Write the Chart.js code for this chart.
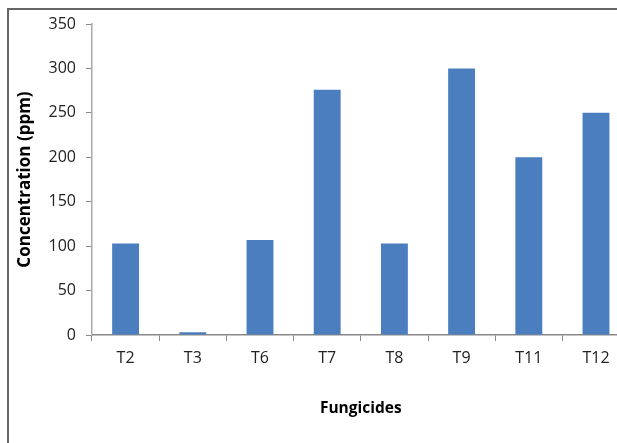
<!DOCTYPE html>
<html>
<head>
<meta charset="utf-8">
<script src="https://cdn.jsdelivr.net/npm/chart.js@4"></script>
<style>
html,body{margin:0;padding:0;background:#fff;overflow:hidden;}
#page{position:relative;width:617px;height:443px;overflow:hidden;background:#fff;}
#frame{position:absolute;left:7px;top:8px;width:620px;height:440px;border-left:2px solid #666;border-top:2px solid #666;}
#wrap{position:absolute;left:0;top:0;width:640px;height:443px;}
</style>
</head>
<body>
<div id="page">
<div id="frame"></div>
<div id="wrap"><canvas id="c" width="640" height="443"></canvas></div>
</div>
<script>
const categories = ['T2','T3','T6','T7','T8','T9','T11','T12'];
const concentration = [103, 3, 107, 276, 103, 300, 200, 250];
const yTicks = [0, 50, 100, 150, 200, 250, 300, 350];

const tickFont = {family: "'Open Sans', sans-serif", size: 16};
const xTitleFont = {family: "'Open Sans', sans-serif", size: 15.5, weight: 'bold'};
const yTitleFont = {family: "'Open Sans', sans-serif", size: 17, weight: 'bold'};

new Chart(document.getElementById('c'), {
  type: 'bar',
  data: {
    labels: categories,
    datasets: [{
      data: concentration,
      backgroundColor: '#4a7ebf',
      borderWidth: 0,
      barPercentage: 0.4,
      categoryPercentage: 1.0
    }]
  },
  options: {
    responsive: false,
    animation: false,
    layout: {padding: {left: 0, top: 24, right: 10.4, bottom: 0}},
    plugins: {legend: {display: false}, tooltip: {enabled: false}},
    scales: {
      x: {
        grid: {display: true, drawOnChartArea: false, drawTicks: true, tickLength: 6, color: '#888', offset: true},
        border: {display: true, color: '#888', width: 1.5},
        ticks: {font: tickFont, color: '#222', padding: 8, maxRotation: 0},
        title: {display: true, text: 'Fungicides', font: xTitleFont, color: '#000', padding: {top: 0, bottom: 25}},
        afterFit: s => { s.height = 108; }
      },
      y: {
        min: 0, max: 350,
        afterBuildTicks: s => { s.ticks = yTicks.map(v => ({value: v})); },
        grid: {display: true, drawOnChartArea: false, drawTicks: true, tickLength: 6, color: '#888'},
        border: {display: true, color: '#aaa', width: 1.5},
        ticks: {font: tickFont, color: '#222', padding: 10},
        title: {display: true, text: 'Concentration (ppm)', font: yTitleFont, color: '#000', padding: {top: 15, bottom: 0}},
        afterFit: s => { s.width = 92; }
      }
    }
  }
});
</script>
</body>
</html>
